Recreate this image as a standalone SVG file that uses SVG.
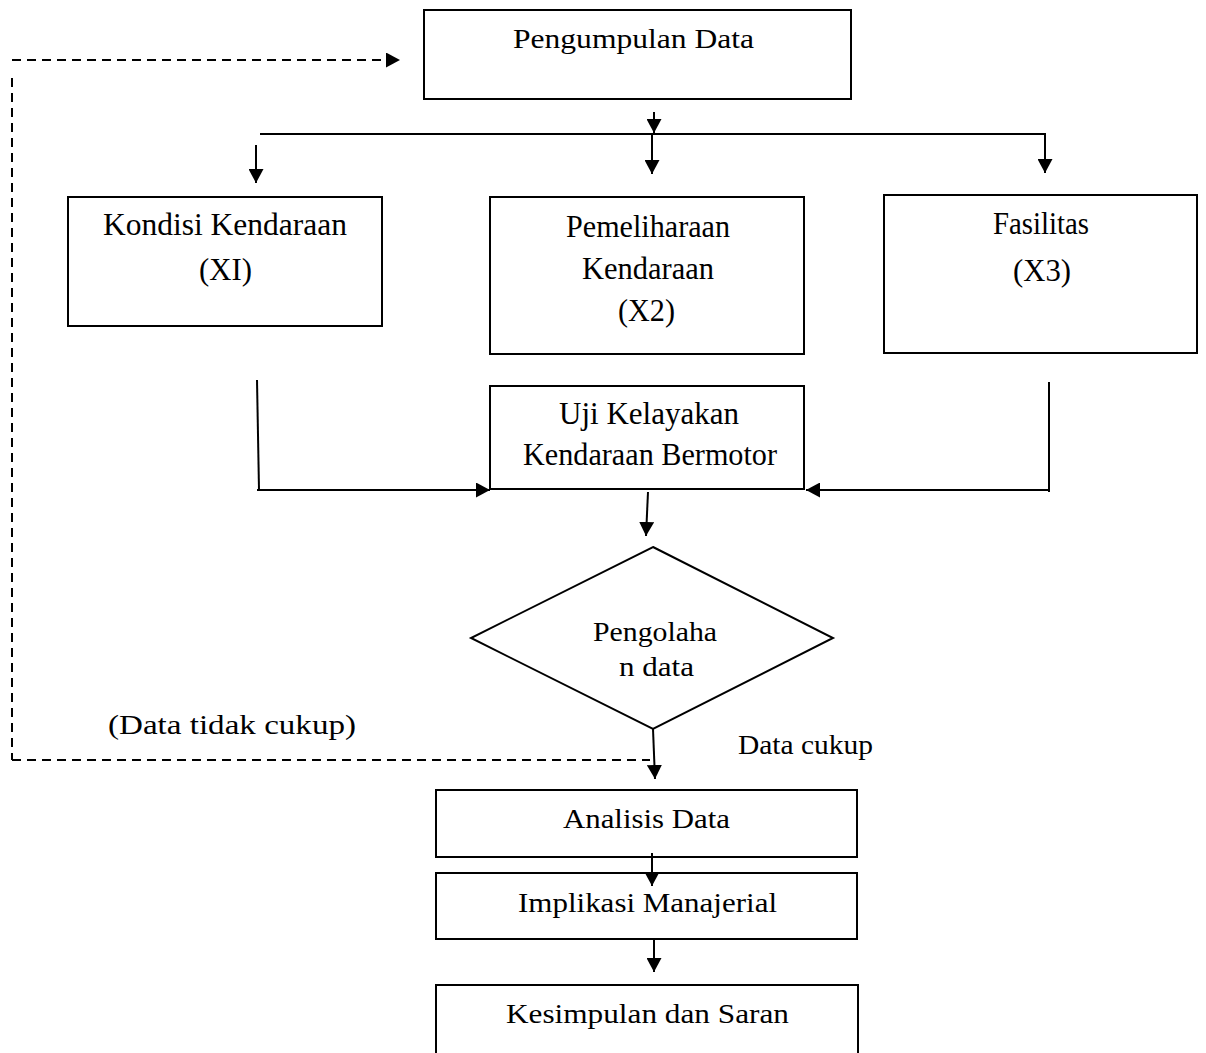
<svg xmlns="http://www.w3.org/2000/svg" width="1206" height="1053" viewBox="0 0 1206 1053">
<defs>
<marker id="ah" viewBox="0 0 10 10" refX="10" refY="5" markerWidth="14" markerHeight="15" markerUnits="userSpaceOnUse" orient="auto" preserveAspectRatio="none">
<path d="M0,0 L10,5 L0,10 Z" fill="#000"/>
</marker>
<style>
.box{fill:#fff;stroke:#000;stroke-width:2}
.ln{fill:none;stroke:#000;stroke-width:2}
.dash{fill:none;stroke:#000;stroke-width:2;stroke-dasharray:9 6}
text{font-family:"Liberation Serif","Times New Roman",serif;font-size:31px;fill:#000}
.s{font-size:28px}
</style>
</defs>
<rect width="1206" height="1053" fill="#fff"/>
<g id="n-pengumpulan">
<rect class="box" x="424" y="10" width="427" height="89"/>
<text x="513" y="48" class="s" textLength="241" lengthAdjust="spacingAndGlyphs">Pengumpulan  Data</text>
</g>
<g id="n-kondisi">
<rect class="box" x="68" y="197" width="314" height="129"/>
<text x="103" y="235" textLength="244" lengthAdjust="spacingAndGlyphs">Kondisi  Kendaraan</text>
<text x="199" y="280" textLength="53" lengthAdjust="spacingAndGlyphs">(XI)</text>
</g>
<g id="n-pemeliharaan">
<rect class="box" x="490" y="197" width="314" height="157"/>
<text x="566" y="237" textLength="164" lengthAdjust="spacingAndGlyphs">Pemeliharaan</text>
<text x="582" y="279" textLength="132" lengthAdjust="spacingAndGlyphs">Kendaraan</text>
<text x="618" y="321" textLength="57" lengthAdjust="spacingAndGlyphs">(X2)</text>
</g>
<g id="n-fasilitas">
<rect class="box" x="884" y="195" width="313" height="158"/>
<text x="993" y="234" textLength="96" lengthAdjust="spacingAndGlyphs">Fasilitas</text>
<text x="1013" y="281" textLength="58" lengthAdjust="spacingAndGlyphs">(X3)</text>
</g>
<g id="n-uji">
<rect class="box" x="490" y="386" width="314" height="103"/>
<text x="559" y="424" textLength="180" lengthAdjust="spacingAndGlyphs">Uji Kelayakan</text>
<text x="523" y="465" textLength="254" lengthAdjust="spacingAndGlyphs">Kendaraan Bermotor</text>
</g>
<g id="n-pengolahan">
<polygon class="box" points="653,547 833,638 653,729 471,638"/>
<text x="593" y="641" class="s" textLength="124" lengthAdjust="spacingAndGlyphs">Pengolaha</text>
<text x="619" y="676" class="s" textLength="75" lengthAdjust="spacingAndGlyphs">n data</text>
</g>
<g id="labels">
<text x="108" y="734" class="s" textLength="248" lengthAdjust="spacingAndGlyphs">(Data tidak cukup)</text>
<text x="738" y="754" class="s" textLength="135" lengthAdjust="spacingAndGlyphs">Data cukup</text>
</g>
<g id="n-analisis">
<rect class="box" x="436" y="790" width="421" height="67"/>
<text x="563" y="828" class="s" textLength="167" lengthAdjust="spacingAndGlyphs">Analisis  Data</text>
</g>
<g id="n-implikasi">
<rect class="box" x="436" y="873" width="421" height="66"/>
<text x="518" y="912" class="s" textLength="259" lengthAdjust="spacingAndGlyphs">Implikasi  Manajerial</text>
</g>
<g id="n-kesimpulan">
<rect class="box" x="436" y="985" width="422" height="80"/>
<text x="506" y="1023" class="s" textLength="283" lengthAdjust="spacingAndGlyphs">Kesimpulan  dan Saran</text>
</g>
<g id="connectors">
<line class="dash" x1="12" y1="60" x2="400" y2="60" marker-end="url(#ah)"/>
<line class="dash" x1="12" y1="78" x2="12" y2="760"/>
<line class="dash" x1="12" y1="760" x2="650" y2="760"/>
<line class="ln" x1="654" y1="112" x2="654" y2="133" marker-end="url(#ah)"/>
<line class="ln" x1="260" y1="134" x2="1046" y2="134"/>
<line class="ln" x1="256" y1="145" x2="256" y2="183" marker-end="url(#ah)"/>
<line class="ln" x1="652" y1="134" x2="652" y2="174" marker-end="url(#ah)"/>
<line class="ln" x1="1045" y1="134" x2="1045" y2="173" marker-end="url(#ah)"/>
<line class="ln" x1="257" y1="380" x2="259" y2="490"/>
<line class="ln" x1="257" y1="490" x2="490" y2="490" marker-end="url(#ah)"/>
<line class="ln" x1="1049" y1="382" x2="1049" y2="492"/>
<line class="ln" x1="1049" y1="490" x2="806" y2="490" marker-end="url(#ah)"/>
<line class="ln" x1="648" y1="492" x2="646" y2="536" marker-end="url(#ah)"/>
<line class="ln" x1="653" y1="729" x2="655" y2="779" marker-end="url(#ah)"/>
<line class="ln" x1="652" y1="853" x2="652" y2="886" marker-end="url(#ah)"/>
<line class="ln" x1="654" y1="939" x2="654" y2="972" marker-end="url(#ah)"/>
</g>
</svg>
